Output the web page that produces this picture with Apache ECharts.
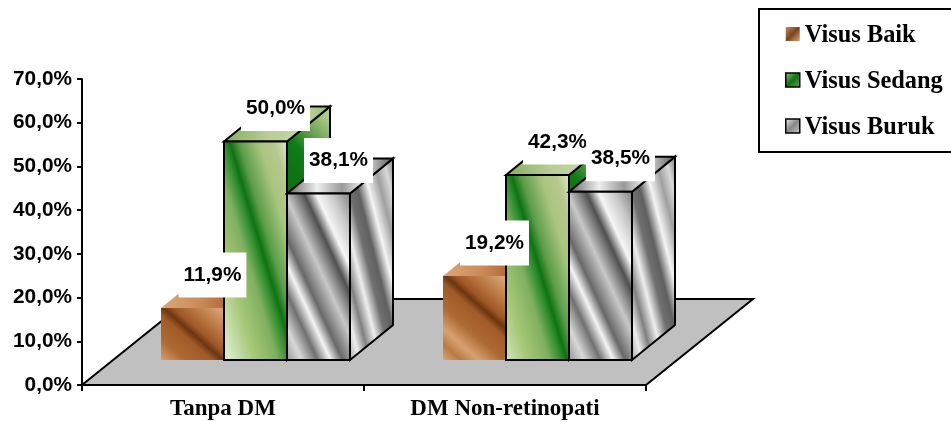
<!DOCTYPE html>
<html>
<head>
<meta charset="utf-8">
<style>html,body{margin:0;padding:0;background:#fff}#chart{width:951px;height:422px}</style>
<script src="https://cdn.jsdelivr.net/npm/echarts@6/dist/echarts.min.js"></script>
</head>
<body>
<div id="chart"></div>
<script>
// Percentages per vision group
const categories = ['Tanpa DM', 'DM Non-retinopati'];
const seriesNames = ['Visus Baik', 'Visus Sedang', 'Visus Buruk'];
const visusBaik = [11.9, 19.2];
const visusSedang = [50.0, 42.3];
const visusBuruk = [38.1, 38.5];
const tickLabels = ['0,0%', '10,0%', '20,0%', '30,0%', '40,0%', '50,0%', '60,0%', '70,0%'];

const SANS = '"Liberation Sans", Arial, sans-serif';
const SERIF = '"Liberation Serif", "Times New Roman", serif';
const percent = v => v.toFixed(1).replace('.', ',') + '%';

// Pseudo-3D layout, in pixels
const FRONT = [32.5, -25];   // bar front plane relative to the axis plane
const DEPTH = [43, -35];     // bar depth
const FLOOR = [107, -86];    // floor depth
const BAR_SHARE = 63 / 282;  // bar width as a share of the category band

// Diagonal banded fill: stops are [distance along x from the anchor, colour],
// bands lean by `slope` (dx per dy).
function bands(ax, ay, slope, stops) {
  const lo = stops[0][0], hi = stops[stops.length - 1][0], n = 1 + slope * slope;
  return new echarts.graphic.LinearGradient(
    ax + lo / n, ay - slope * lo / n, ax + hi / n, ay - slope * hi / n,
    stops.map(s => ({ offset: (s[0] - lo) / (hi - lo), color: s[1] })), true);
}

const looks = [
  { // brown wood
    stroke: null,
    front: { slope: 1.14, stops: [[-97, '#dcaa7c'], [-78, '#b87a44'], [-60, '#d8a070'], [-35, '#ad6a32'], [-8, '#a15a28'], [2.5, '#6a3612'], [12, '#9e5626'], [30, '#b87440'], [62, '#dfaa7c']] },
    side: { slope: 1.14, stops: [[-60, '#b87440'], [0, '#7a4420'], [60, '#b87440']] },
    top: { slope: 0, stops: [[0, '#dba878'], [40, '#c98a58'], [75, '#a85c2a']] },
    legend: ['#c98a58', '#7a4420', '#d8a070']
  },
  { // green malachite
    stroke: '#000',
    front: { slope: 0.3, stops: [[-60, '#d8eccb'], [-35, '#a8c878'], [-12, '#7fb060'], [0, '#2f8c2f'], [5.5, '#0e7312'], [15, '#5c9c4a'], [35, '#a9c57f'], [50, '#b7c88f'], [62, '#d5e6c4']] },
    side: { slope: 1, stops: [[-30, '#0e7312'], [5, '#0f7a18'], [30, '#5f9d48'], [60, '#a8c583'], [80, '#c5d6a6']] },
    top: { slope: 0, stops: [[0, '#86ae62'], [45, '#b9cd94'], [80, '#c5d6a6'], [110, '#8fb36c']] },
    legend: ['#9cc583', '#0e7312', '#6ea558']
  },
  { // grey metal
    stroke: '#000',
    front: { slope: 0.46, stops: [[-80, '#8a8a8a'], [-62, '#d8d8d8'], [-46, '#707070'], [-33, '#f4f4f4'], [-21, '#686868'], [-2, '#c8c8c8'], [17, '#505050'], [29, '#f6f6f6'], [45, '#c8c8c8'], [64, '#808080']] },
    side: { slope: 0.25, stops: [[-42, '#aaa'], [-32, '#eee'], [-22, '#808080'], [-11, '#eee'], [0, '#707070'], [9, '#606060'], [20, '#f4f4f4'], [32, '#a0a0a0'], [42, '#d8d8d8'], [50, '#909090']] },
    top: { slope: 0, stops: [[0, '#666'], [30, '#eee'], [55, '#999'], [75, '#eee'], [107, '#555']] },
    legend: ['#eee', '#888', '#ccc']
  }
];

// One 3D bar: front, top and side faces plus its boxed value label
function barRenderer(order) {
  const look = looks[order];
  return function (params, api) {
    const band = api.size([1, 0])[0];
    const w = band * BAR_SHARE;
    const center = api.coord([api.value(0), 0])[0];
    const base = api.coord([api.value(0), 0])[1] + FRONT[1];
    const top = api.coord([api.value(0), api.value(1)])[1] + FRONT[1];
    const l = center + FRONT[0] + (order - 1.5) * w;
    const r = l + w;
    const [dx, dy] = DEPTH;
    const face = (points, spec, ax, ay) => ({
      type: 'polygon',
      shape: { points },
      style: {
        fill: bands(ax, ay, spec.slope, spec.stops),
        stroke: look.stroke,
        lineWidth: look.stroke ? 2 : 0,
        lineJoin: 'miter'
      }
    });
    return {
      type: 'group',
      children: [
        face([[r, top], [r + dx, top + dy], [r + dx, base + dy], [r, base]], look.side, r, top),
        face([[l, top], [l + dx, top + dy], [r + dx, top + dy], [r, top]], look.top, l, top),
        face([[l, top], [r, top], [r, base], [l, base]], look.front, l, top),
        {
          type: 'text',
          z2: 100,
          style: {
            text: percent(api.value(1)),
            x: (l + r) / 2 + 20,
            y: top - 33,
            align: 'center',
            verticalAlign: 'middle',
            font: 'bold 20.8px ' + SANS,
            fill: '#000',
            backgroundColor: '#fff',
            padding: [12, 5]
          }
        }
      ]
    };
  };
}

// Grey floor of the plot, spanning all category bands
function floorRenderer(params, api) {
  const band = api.size([1, 0])[0];
  const [x0, y0] = api.coord([0, 0]);
  const left = x0 - band / 2;
  const right = left + band * categories.length;
  return {
    type: 'polygon',
    shape: { points: [[left, y0], [right, y0], [right + FLOOR[0], y0 + FLOOR[1]], [left + FLOOR[0], y0 + FLOOR[1]]] },
    style: { fill: '#c0c0c0', stroke: '#000', lineWidth: 2 }
  };
}

const legendFill = c => new echarts.graphic.LinearGradient(0, 0, 1, 1, [
  { offset: 0, color: c[0] }, { offset: 0.5, color: c[1] }, { offset: 1, color: c[2] }
]);

const chart = echarts.init(document.getElementById('chart'), null, { renderer: 'canvas' });
chart.setOption({
  animation: false,
  backgroundColor: '#fff',
  grid: { left: 82, right: 305, top: 79, bottom: 37 },
  xAxis: {
    type: 'category',
    data: categories,
    axisLine: { lineStyle: { color: '#000', width: 2 } },
    axisTick: { show: true, length: 6, lineStyle: { color: '#000', width: 2 } },
    axisLabel: { color: '#000', fontFamily: SERIF, fontWeight: 'bold', fontSize: 23, margin: 13, interval: 0 }
  },
  yAxis: {
    type: 'value',
    min: 0,
    max: 70,
    interval: 10,
    splitLine: { show: false },
    axisLine: { show: true, lineStyle: { color: '#000', width: 2 } },
    axisTick: { show: true, length: 5, lineStyle: { color: '#000', width: 2 } },
    axisLabel: {
      color: '#000', fontFamily: SANS, fontWeight: 'bold', fontSize: 20.8, margin: 10,
      formatter: v => tickLabels[v / 10]
    }
  },
  legend: {
    orient: 'vertical',
    left: 759,
    top: 9,
    padding: [15, 30, 12, 26],
    backgroundColor: '#fff',
    borderColor: '#000',
    borderWidth: 2,
    itemWidth: 14,
    itemHeight: 14,
    itemGap: 22,
    selectedMode: false,
    icon: 'rect',
    formatter: name => '{t|' + name + '}',
    textStyle: {
      rich: { t: { color: '#000', fontFamily: SERIF, fontWeight: 'bold', fontSize: 24.4, padding: [4, 0, 0, 0] } }
    },
    data: seriesNames.map((name, i) => ({
      name,
      itemStyle: {
        color: legendFill(looks[i].legend),
        borderColor: looks[i].stroke || 'transparent',
        borderWidth: looks[i].stroke ? 1.5 : 0
      }
    }))
  },
  series: [
    { type: 'custom', name: 'floor', silent: true, z: 1, coordinateSystem: 'cartesian2d', renderItem: floorRenderer, data: [[0, 0]], encode: { x: 0, y: 1 } },
    ...[visusBaik, visusSedang, visusBuruk].map((values, i) => ({
      type: 'custom',
      name: seriesNames[i],
      z: 2,
      coordinateSystem: 'cartesian2d',
      renderItem: barRenderer(i),
      clip: false,
      itemStyle: { color: looks[i].legend[1] },
      encode: { x: 0, y: 1 },
      data: values.map((v, j) => [j, v])
    }))
  ]
});
</script>
</body>
</html>
